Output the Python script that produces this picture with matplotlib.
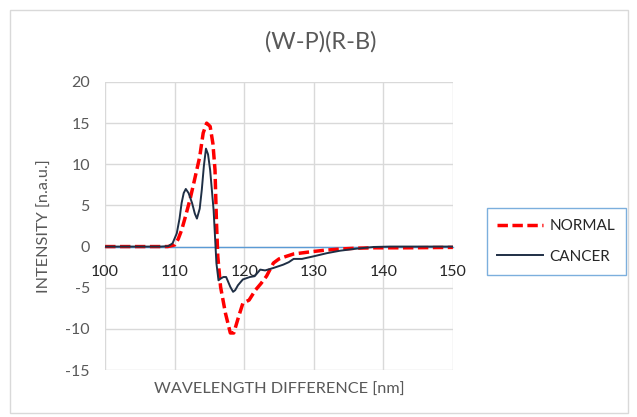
import matplotlib.pyplot as plt
from matplotlib.patches import Rectangle

plt.rcParams['font.family'] = ['Lato', 'DejaVu Sans']
plt.rcParams['axes.unicode_minus'] = False

# Datos
wl_normal = [100, 105, 108, 109, 110, 110.5, 111, 111.5, 112.2, 112.8, 113.6, 114.1,
             114.6, 115.1, 115.5, 115.8, 116.0, 116.2, 116.6, 117.3, 118.0, 118.5,
             119.2, 119.8, 120.7, 121.6, 122.4, 123.2, 124.2, 125.0, 126.0, 127.1,
             128.5, 129.9, 131.5, 133.8, 136.0, 138.6, 143.4, 150]
int_normal = [0, 0, 0, 0, 0.2, 0.9, 2.0, 3.5, 5.7, 7.9, 10.9, 13.8,
              15.0, 14.6, 12.5, 9.3, 3.2, -1.2, -4.9, -8.1, -10.5, -10.5,
              -8.5, -6.9, -6.5, -5.3, -4.5, -3.6, -2.0, -1.5, -1.2, -0.9,
              -0.75, -0.6, -0.45, -0.3, -0.2, -0.15, -0.15, -0.1]

wl_cancer = [100, 105, 108, 109.1, 109.7, 110.3, 110.7, 111.0, 111.3, 111.6, 112.0,
             112.5, 112.9, 113.2, 113.6, 113.9, 114.2, 114.5, 114.8, 115.1, 115.6,
             116.0, 116.3, 116.6, 117.0, 117.4, 118.0, 118.4, 118.7, 119.1, 119.8,
             120.8, 121.5, 122.3, 123.0, 124.2, 125.6, 126.4, 127.1, 128.3, 129.9,
             131.9, 133.8, 136.2, 138.6, 141, 145, 150]
int_cancer = [0, 0, 0, 0.05, 0.4, 1.6, 3.4, 5.3, 6.5, 7.0, 6.5,
              5.3, 4.0, 3.4, 4.6, 6.9, 9.8, 11.9, 11.2, 9.3, 4.4,
              -2.0, -4.1, -3.9, -3.7, -3.7, -4.9, -5.5, -5.3, -4.7, -4.0,
              -3.7, -3.6, -2.8, -2.9, -2.6, -2.2, -1.9, -1.5, -1.5, -1.2,
              -0.8, -0.5, -0.25, -0.05, 0, 0, 0]

x_ticks = [100, 110, 120, 130, 140, 150]
y_ticks = [-15, -10, -5, 0, 5, 10, 15, 20]

fig = plt.figure(figsize=(6.37, 4.17), dpi=100)
ax = fig.add_axes([0.165, 0.1127, 0.546, 0.6907])

# borde exterior del gráfico
fig.patches.append(Rectangle((10 / 637, 4 / 417), 618 / 637, 403 / 417,
                             transform=fig.transFigure, fill=False,
                             edgecolor='#D9D9D9', linewidth=1))

ax.plot(wl_normal, int_normal, color='#FF0000', linewidth=2.5,
        linestyle=(0, (3, 1.3)), label='NORMAL', zorder=3)
ax.plot(wl_cancer, int_cancer, color='#1F2F45', linewidth=1.4,
        label='CANCER', zorder=4)

ax.set_xlim(100, 150)
ax.set_ylim(-15, 20)
ax.set_xticks(x_ticks)
ax.set_yticks(y_ticks)
ax.grid(True, color='#D9D9D9', linewidth=1)
ax.set_axisbelow(True)

for side in ['top', 'right', 'left']:
    ax.spines[side].set_visible(False)
ax.spines['bottom'].set_position(('data', 0))
ax.spines['bottom'].set_color('#5B9BD5')
ax.spines['bottom'].set_linewidth(1)
ax.spines['bottom'].set_zorder(2)

ax.tick_params(axis='both', length=0, labelsize=11.5, labelcolor='#595959')
ax.tick_params(axis='x', pad=13, labelcolor='#262626')
ax.tick_params(axis='y', pad=11)

fig.text(0.439, 0.065, 'WAVELENGTH DIFFERENCE [nm]', ha='center', va='center',
         fontsize=11.7, color='#595959')
fig.text(0.071, 0.458, 'INTENSITY [n.a.u.]', ha='center', va='center',
         rotation=90, fontsize=11.7, color='#595959')
fig.text(0.504, 0.899, '(W-P)(R-B)', ha='center', va='center',
         fontsize=17, color='#595959')

leg = ax.legend(loc='center', bbox_to_anchor=(0.873, 0.421),
                bbox_transform=fig.transFigure, fontsize=11, frameon=True,
                fancybox=False, edgecolor='#5B9BD5', handlelength=3.0,
                handletextpad=0.4, labelspacing=1.1, borderpad=0.7)
leg.get_frame().set_linewidth(1)
for t in leg.get_texts():
    t.set_color('#262626')

fig.savefig('out.png', dpi=100)
